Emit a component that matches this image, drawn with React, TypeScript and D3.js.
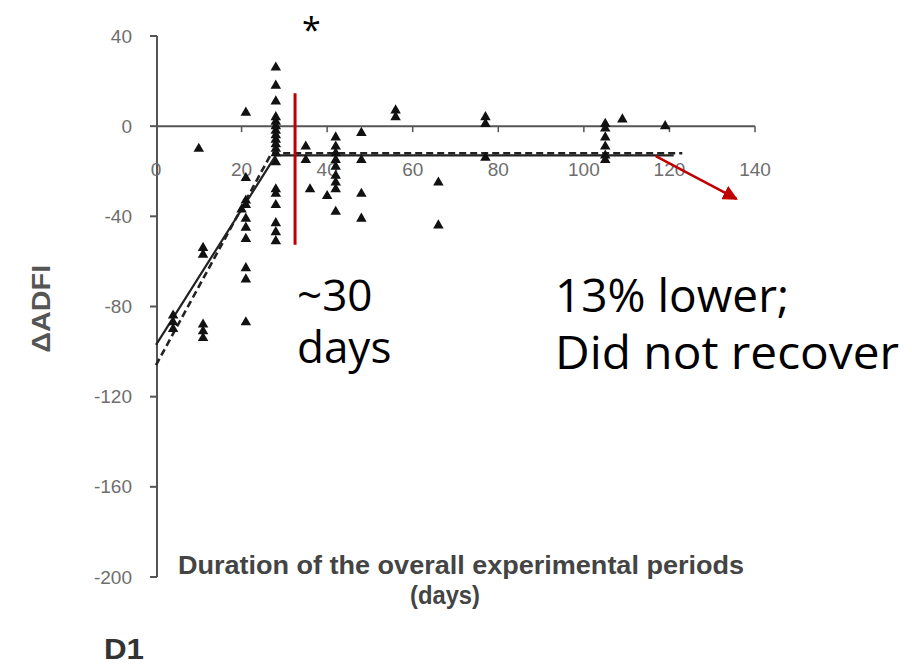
import React, { useEffect, useRef } from 'react';
import * as d3 from 'd3';

// observed points (days, ΔADFI)
const pointDays = [
  4, 4, 4, 10, 11, 11, 11, 11, 11,
  20, 21, 21, 21, 21, 21, 21, 21, 21, 21, 21,
  28, 28, 28, 28, 28, 28, 28, 28, 28, 28, 28, 28, 28, 28, 28, 28, 28, 28, 28,
  35, 35, 36, 40, 42, 42, 42, 42, 42, 42, 42, 42, 42,
  48, 48, 48, 48, 56, 56, 66, 66, 77, 77, 77,
  105, 105, 105, 105, 105, 105, 109, 119,
];
const pointADFI = [
  -84, -87, -90, -10, -54, -57, -88, -91, -94,
  -37, 6, -23, -33, -35, -41, -45, -50, -63, -68, -87,
  26, 18, 11, 4, 2, 0, -2, -4, -6, -8, -10, -12, -16, -28, -30, -35, -43, -47, -51,
  -9, -15, -28, -31, -5, -9, -12, -15, -18, -22, -25, -28, -38,
  -3, -15, -30, -41, 4, 7, -25, -44, 1, 4, -14,
  1, -1, -5, -9, -13, -15, 3, 0,
];

// broken-line fits
const solidFitDays = [0, 28, 121];
const solidFitADFI = [-97, -13, -13];
const dashedFitDays = [0, 27, 123];
const dashedFitADFI = [-106, -12, -12];

const xTicks = [0, 20, 40, 60, 80, 100, 120, 140];
const yTicks = [40, 0, -40, -80, -120, -160, -200];

// annotation anchors in data units
const cutoffDay = 32.5;
const cutoffRange = [14.6, -52.6];
const arrowFrom = [116.8, -13.3];
const arrowTo = [135.7, -32.3];

const RED = '#c00000';

const App = () => {
  const svgRef = useRef<SVGSVGElement | null>(null);

  useEffect(() => {
    const svg = d3.select(svgRef.current);
    svg.selectAll('*').remove();

    const x = d3.scaleLinear().domain([0, 140]).range([156, 755]);
    const y = d3.scaleLinear().domain([-200, 40]).range([577, 36]);

    svg.append('defs').append('marker')
      .attr('id', 'redArrow')
      .attr('viewBox', '0 -5 10 10')
      .attr('refX', 9)
      .attr('refY', 0)
      .attr('orient', 'auto')
      .attr('markerWidth', 6)
      .attr('markerHeight', 6)
      .append('path')
      .attr('d', 'M0,-5L10,0L0,5Z')
      .attr('fill', RED);

    const axisColor = '#555';
    const tickColor = '#6e6e6e';
    const sans = 'Liberation Sans, Arial, sans-serif';

    // y axis
    svg.append('line')
      .attr('x1', x(0) + 1).attr('x2', x(0) + 1)
      .attr('y1', y(40)).attr('y2', y(-200))
      .attr('stroke', axisColor).attr('stroke-width', 2);
    svg.selectAll('line.ytick')
      .data(yTicks)
      .join('line')
      .attr('class', 'ytick')
      .attr('x1', x(0) - 6).attr('x2', x(0) + 1)
      .attr('y1', d => y(d)).attr('y2', d => y(d))
      .attr('stroke', axisColor).attr('stroke-width', 2);
    svg.selectAll('text.ylab')
      .data(yTicks)
      .join('text')
      .attr('class', 'ylab')
      .attr('x', 132)
      .attr('y', d => y(d))
      .attr('dy', '0.35em')
      .attr('text-anchor', 'end')
      .attr('fill', tickColor)
      .style('font-family', sans)
      .style('font-size', '19px')
      .text(d => d);

    // x axis sits at zero, labels hang lower
    svg.append('line')
      .attr('x1', x(0)).attr('x2', x(140))
      .attr('y1', y(0)).attr('y2', y(0))
      .attr('stroke', axisColor).attr('stroke-width', 2);
    svg.selectAll('line.xtick')
      .data(xTicks.slice(1))
      .join('line')
      .attr('class', 'xtick')
      .attr('x1', d => x(d)).attr('x2', d => x(d))
      .attr('y1', y(0)).attr('y2', y(0) + 6)
      .attr('stroke', axisColor).attr('stroke-width', 1.5);
    svg.selectAll('text.xlab')
      .data(xTicks)
      .join('text')
      .attr('class', 'xlab')
      .attr('x', d => x(d))
      .attr('y', y(0) + 50)
      .attr('text-anchor', 'middle')
      .attr('fill', tickColor)
      .style('font-family', sans)
      .style('font-size', '19px')
      .text(d => d);

    // fitted lines
    const line = d3.line<number[]>()
      .x(d => x(d[0]))
      .y(d => y(d[1]));
    const solid = solidFitDays.map((d, i) => [d, solidFitADFI[i]]);
    const dashed = dashedFitDays.map((d, i) => [d, dashedFitADFI[i]]);
    svg.append('path')
      .attr('d', line(solid))
      .attr('fill', 'none')
      .attr('stroke', '#222')
      .attr('stroke-width', 2.2);
    svg.append('path')
      .attr('d', line(dashed))
      .attr('fill', 'none')
      .attr('stroke', '#222')
      .attr('stroke-width', 2.6)
      .attr('stroke-dasharray', '7,4');

    // points
    const tri = d3.symbol().type(d3.symbolTriangle).size(48);
    svg.selectAll('path.pt')
      .data(pointDays.map((d, i) => [d, pointADFI[i]]))
      .join('path')
      .attr('class', 'pt')
      .attr('d', tri)
      .attr('transform', d => `translate(${x(d[0])},${y(d[1])})`)
      .attr('fill', '#111');

    // axis titles
    svg.append('text')
      .attr('transform', `translate(50,${y(-81)}) rotate(-90)`)
      .attr('text-anchor', 'middle')
      .attr('fill', '#555')
      .attr('textLength', 88)
      .attr('lengthAdjust', 'spacingAndGlyphs')
      .style('font-family', sans)
      .style('font-size', '25px')
      .style('font-weight', 'bold')
      .text('ΔADFI');

    svg.append('text')
      .attr('x', 461)
      .attr('y', 574)
      .attr('text-anchor', 'middle')
      .attr('fill', '#444')
      .attr('textLength', 566)
      .attr('lengthAdjust', 'spacingAndGlyphs')
      .style('font-family', sans)
      .style('font-size', '25px')
      .style('font-weight', 'bold')
      .text('Duration of the overall experimental periods');
    svg.append('text')
      .attr('x', 410)
      .attr('y', 604)
      .attr('fill', '#444')
      .attr('textLength', 70)
      .attr('lengthAdjust', 'spacingAndGlyphs')
      .style('font-family', sans)
      .style('font-size', '25px')
      .style('font-weight', 'bold')
      .text('(days)');

    svg.append('text')
      .attr('x', 104)
      .attr('y', 659)
      .attr('fill', '#333')
      .attr('textLength', 40)
      .attr('lengthAdjust', 'spacingAndGlyphs')
      .style('font-family', sans)
      .style('font-size', '29px')
      .style('font-weight', 'bold')
      .text('D1');

    // annotations
    svg.append('line')
      .attr('x1', x(cutoffDay)).attr('x2', x(cutoffDay))
      .attr('y1', y(cutoffRange[0])).attr('y2', y(cutoffRange[1]))
      .attr('stroke', RED).attr('stroke-width', 3);
    svg.append('line')
      .attr('x1', x(arrowFrom[0])).attr('y1', y(arrowFrom[1]))
      .attr('x2', x(arrowTo[0])).attr('y2', y(arrowTo[1]))
      .attr('stroke', RED).attr('stroke-width', 2.5)
      .attr('marker-end', 'url(#redArrow)');

    const ann = svg.append('g')
      .attr('fill', '#000')
      .style('font-family', 'Open Sans, sans-serif');
    ann.append('text').attr('x', 302).attr('y', 42).style('font-size', '34px').text('*');
    ann.append('text').attr('x', 297).attr('y', 311).style('font-size', '44px').text('~30');
    ann.append('text').attr('x', 297).attr('y', 363).style('font-size', '44px').text('days');
    ann.append('text').attr('x', 555).attr('y', 312).attr('textLength', 234).attr('lengthAdjust', 'spacingAndGlyphs')
      .style('font-size', '45px').text('13% lower;');
    ann.append('text').attr('x', 555).attr('y', 369).attr('textLength', 344).attr('lengthAdjust', 'spacingAndGlyphs')
      .style('font-size', '45px').text('Did not recover');
  }, []);

  return (
    <div style={{ position: 'absolute', left: 0, top: 0, width: 912, height: 667, background: '#fff' }}>
      <svg ref={svgRef} width={912} height={667} style={{ display: 'block' }} />
    </div>
  );
};

export default App;
